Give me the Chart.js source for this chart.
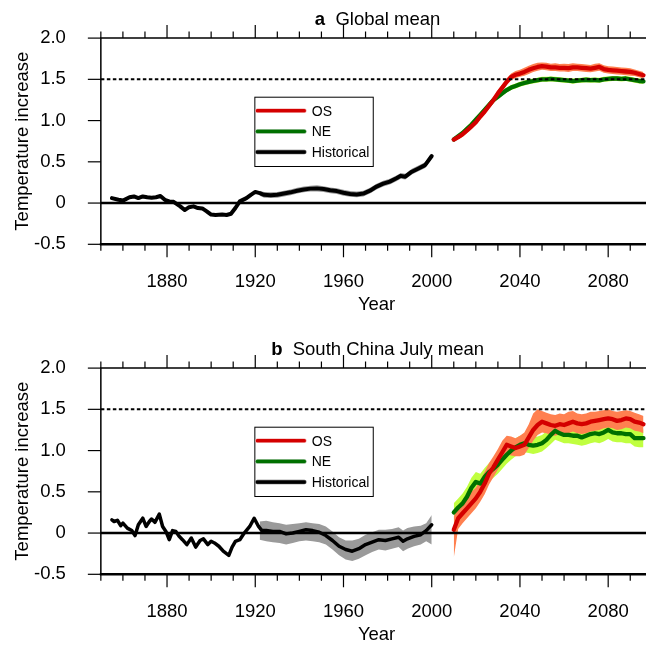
<!DOCTYPE html>
<html><head><meta charset="utf-8">
<script src="https://cdn.jsdelivr.net/npm/chart.js"></script>
<style>
html,body{margin:0;padding:0;background:#fff;overflow:hidden;width:646px;height:646px;position:relative;}
canvas{position:absolute;left:0;}
#ca{top:0px}
#cb{top:330px}
</style></head><body>
<canvas id="ca" width="656" height="330"></canvas>
<canvas id="cb" width="656" height="330"></canvas>
<script>
// ---------- tick labels ----------
const xTickLabels = [1880, 1920, 1960, 2000, 2040, 2080];
const yTickLabels = [-0.5, 0, 0.5, 1.0, 1.5, 2.0];
const refLevels = [0, 1.5];           // solid zero line, dotted 1.5 line
const seriesNames = ['OS', 'NE', 'Historical'];

// ---------- panel a: Global mean ----------
const histYearsA = [1855,1858,1860,1863,1865,1867,1869,1871,1873,1875,1877,1879,1881,1883,1886,1888,1890,1892,1894,1896,1898,1900,1902,1905,1907,1909,1911,1913,1916,1918,1920,1922,1924,1927,1930,1933,1936,1939,1942,1945,1948,1951,1954,1957,1960,1963,1966,1969,1972,1975,1978,1981,1984,1986,1988,1991,1994,1997,2000];
const histA = [0.06,0.04,0.03,0.07,0.08,0.06,0.08,0.07,0.065,0.07,0.085,0.04,0.02,0.015,-0.04,-0.085,-0.05,-0.04,-0.06,-0.065,-0.10,-0.14,-0.145,-0.14,-0.145,-0.13,-0.06,0.02,0.06,0.10,0.135,0.12,0.10,0.095,0.10,0.115,0.13,0.15,0.165,0.175,0.178,0.17,0.155,0.145,0.125,0.11,0.105,0.115,0.15,0.20,0.235,0.26,0.30,0.33,0.32,0.38,0.42,0.46,0.57];
const histBandYearsA = [1922,1924,1927,1930,1933,1936,1939,1942,1945,1948,1951,1954,1957,1960,1963,1966,1969,1972,1975,1978,1981,1984,1986,1988,1991,1994,1997,2000];
const histHiA = [0.15,0.135,0.13,0.135,0.15,0.165,0.185,0.20,0.21,0.215,0.205,0.19,0.18,0.16,0.145,0.14,0.15,0.185,0.235,0.27,0.295,0.335,0.365,0.355,0.415,0.455,0.495,0.60];
const histLoA = [0.09,0.065,0.06,0.065,0.08,0.095,0.115,0.13,0.14,0.14,0.135,0.12,0.11,0.09,0.075,0.07,0.08,0.115,0.165,0.20,0.225,0.265,0.295,0.285,0.345,0.385,0.425,0.54];

const projYears = [2010,2012,2014,2016,2018,2020,2022,2024,2026,2028,2030,2032,2034,2036,2038,2040,2042,2044,2046,2048,2050,2052,2054,2056,2058,2060,2062,2064,2066,2068,2070,2072,2074,2076,2078,2080,2082,2084,2086,2088,2090,2092,2094,2096];

const osA   = [0.77,0.80,0.835,0.88,0.93,0.98,1.05,1.11,1.18,1.25,1.33,1.40,1.47,1.53,1.555,1.57,1.59,1.615,1.635,1.65,1.66,1.655,1.645,1.645,1.64,1.64,1.635,1.645,1.645,1.64,1.635,1.63,1.64,1.65,1.625,1.615,1.61,1.605,1.60,1.595,1.59,1.58,1.565,1.55];
const osHiA = [0.79,0.83,0.87,0.915,0.965,1.02,1.09,1.15,1.22,1.29,1.37,1.44,1.51,1.57,1.60,1.615,1.64,1.665,1.685,1.70,1.705,1.70,1.69,1.695,1.685,1.69,1.685,1.695,1.69,1.685,1.68,1.675,1.69,1.695,1.67,1.66,1.655,1.65,1.645,1.64,1.635,1.62,1.605,1.59];
const osLoA = [0.75,0.775,0.80,0.845,0.895,0.945,1.01,1.07,1.14,1.21,1.29,1.36,1.43,1.49,1.515,1.53,1.545,1.565,1.59,1.605,1.615,1.61,1.60,1.60,1.595,1.595,1.59,1.60,1.60,1.595,1.59,1.585,1.595,1.605,1.58,1.57,1.565,1.56,1.555,1.55,1.545,1.54,1.525,1.51];
const neA   = [0.77,0.81,0.85,0.90,0.95,1.01,1.07,1.13,1.19,1.25,1.29,1.33,1.37,1.40,1.42,1.44,1.455,1.47,1.48,1.49,1.50,1.50,1.505,1.50,1.495,1.49,1.485,1.478,1.485,1.49,1.495,1.49,1.492,1.488,1.50,1.505,1.51,1.51,1.505,1.51,1.50,1.49,1.48,1.475];
const neHiA = [0.79,0.835,0.88,0.93,0.985,1.045,1.105,1.165,1.225,1.28,1.32,1.36,1.40,1.43,1.45,1.47,1.485,1.50,1.51,1.52,1.53,1.53,1.535,1.53,1.525,1.52,1.515,1.51,1.515,1.52,1.525,1.52,1.522,1.52,1.53,1.535,1.54,1.54,1.535,1.54,1.53,1.52,1.51,1.505];
const neLoA = [0.75,0.785,0.82,0.87,0.915,0.975,1.035,1.095,1.155,1.22,1.26,1.30,1.34,1.37,1.39,1.41,1.425,1.44,1.45,1.46,1.47,1.47,1.475,1.47,1.465,1.46,1.455,1.448,1.455,1.46,1.465,1.46,1.462,1.458,1.47,1.475,1.48,1.48,1.475,1.48,1.47,1.46,1.45,1.445];

// ---------- panel b: South China July mean ----------
const histYearsB = [1855,1856,1857.5,1859,1860,1862,1864,1865.5,1867,1869,1870.5,1872,1873,1874.5,1876.5,1878,1879.5,1881,1882.5,1884,1885.5,1887,1889,1891,1893,1895,1896.5,1898.5,1900,1901.5,1903.5,1905.5,1908,1909.5,1911,1913,1915,1917.5,1919.5,1921.5,1923,1925,1928,1931,1934,1937,1940,1943,1946,1949,1952,1955,1958,1961,1964,1967,1970,1973,1976,1979,1982,1985,1987,1989,1992,1995,1997.5,2000];
const histB = [0.16,0.14,0.155,0.09,0.12,0.06,0.03,-0.03,0.10,0.18,0.08,0.14,0.17,0.13,0.23,0.08,0.02,-0.08,0.03,0.02,-0.04,-0.08,-0.14,-0.06,-0.17,-0.09,-0.07,-0.14,-0.10,-0.12,-0.16,-0.22,-0.27,-0.17,-0.10,-0.08,0.00,0.08,0.18,0.08,0.03,0.03,0.02,0.02,-0.01,0.00,0.02,0.04,0.03,0.01,-0.03,-0.09,-0.16,-0.20,-0.22,-0.19,-0.14,-0.11,-0.08,-0.09,-0.07,-0.05,-0.10,-0.07,-0.04,-0.02,0.03,0.10];
const histBandYearsB = [1922,1925,1928,1931,1934,1937,1940,1943,1946,1949,1952,1955,1958,1961,1964,1967,1970,1973,1976,1979,1982,1985,1987,1989,1992,1995,1997.5,2000];
const histHiB = [0.14,0.15,0.13,0.12,0.10,0.11,0.12,0.13,0.12,0.11,0.08,0.02,-0.05,-0.09,-0.09,-0.07,-0.02,0.01,0.04,0.04,0.05,0.07,0.03,0.06,0.08,0.09,0.12,0.22];
const histLoB = [-0.08,-0.10,-0.11,-0.12,-0.14,-0.12,-0.10,-0.09,-0.10,-0.11,-0.14,-0.20,-0.27,-0.32,-0.34,-0.31,-0.27,-0.23,-0.20,-0.21,-0.19,-0.17,-0.22,-0.19,-0.16,-0.14,-0.10,-0.14];

const osB   = [0.04,0.18,0.24,0.30,0.36,0.42,0.50,0.60,0.72,0.80,0.89,0.98,1.07,1.05,1.03,1.05,1.07,1.16,1.25,1.31,1.35,1.33,1.31,1.30,1.32,1.31,1.33,1.35,1.33,1.32,1.33,1.35,1.36,1.37,1.38,1.39,1.38,1.36,1.37,1.39,1.38,1.35,1.34,1.32];
const osHiB = [0.20,0.32,0.38,0.44,0.50,0.55,0.64,0.74,0.85,0.93,1.02,1.12,1.18,1.17,1.15,1.18,1.22,1.32,1.45,1.50,1.48,1.46,1.44,1.43,1.45,1.44,1.47,1.48,1.45,1.44,1.45,1.47,1.47,1.48,1.49,1.50,1.48,1.47,1.48,1.49,1.48,1.46,1.44,1.42];
const osLoB = [-0.30,0.05,0.12,0.18,0.24,0.30,0.38,0.47,0.59,0.68,0.77,0.86,0.96,0.94,0.93,0.93,0.95,1.03,1.12,1.19,1.22,1.21,1.19,1.18,1.20,1.19,1.21,1.23,1.21,1.20,1.21,1.23,1.24,1.25,1.27,1.28,1.27,1.25,1.26,1.28,1.27,1.24,1.23,1.21];
const neB   = [0.25,0.31,0.36,0.44,0.55,0.62,0.60,0.68,0.74,0.78,0.83,0.89,0.95,1.00,1.04,1.07,1.09,1.07,1.06,1.07,1.09,1.13,1.19,1.24,1.21,1.19,1.19,1.18,1.18,1.16,1.18,1.20,1.21,1.20,1.22,1.25,1.22,1.21,1.21,1.20,1.20,1.15,1.15,1.15];
const neHiB = [0.36,0.42,0.48,0.56,0.67,0.74,0.72,0.79,0.85,0.89,0.94,1.00,1.06,1.11,1.15,1.18,1.19,1.17,1.16,1.17,1.19,1.23,1.29,1.33,1.31,1.29,1.29,1.28,1.28,1.26,1.28,1.30,1.31,1.30,1.32,1.34,1.32,1.31,1.31,1.30,1.30,1.27,1.27,1.26];
const neLoB = [0.15,0.21,0.25,0.33,0.44,0.51,0.49,0.57,0.63,0.67,0.72,0.78,0.84,0.89,0.93,0.96,0.98,0.97,0.96,0.97,0.99,1.03,1.08,1.13,1.11,1.09,1.09,1.08,1.07,1.06,1.07,1.09,1.10,1.09,1.11,1.14,1.11,1.10,1.10,1.09,1.09,1.05,1.04,1.04];

// ---------- styling ----------
const FONT = '"Liberation Sans", Arial, Helvetica, sans-serif';
const FS = 18.5;
const C = {
  os: '#d40000', osBand: '#ff8050',
  ne: '#007000', neBand: '#c0ff40',
  hist: '#000000', histBand: '#9a9a9a'
};

const pts = (xs, ys) => xs.map((x, i) => ({x: x, y: ys[i]}));

function lineDs(label, data, color, width, order) {
  return {label, data, borderColor: color, borderWidth: width, pointRadius: 0,
    fill: false, tension: 0, borderJoinStyle: 'round', borderCapStyle: 'round', order};
}
function bandDs(data, color, fill, order) {
  return {label: '_band', data, borderWidth: 0, borderColor: 'rgba(0,0,0,0)', backgroundColor: color,
    pointRadius: 0, fill: fill, tension: 0, order};
}

const decor = {
  id: 'decor',
  afterDatasetsDraw(chart, args, opts) {
    const ctx = chart.ctx, a = chart.chartArea;
    const xs = chart.scales.x, ys = chart.scales.y;
    ctx.save();
    // reference lines
    const y0 = ys.getPixelForValue(refLevels[0]);
    ctx.strokeStyle = '#000'; ctx.lineWidth = 2.4;
    ctx.beginPath(); ctx.moveTo(a.left, y0); ctx.lineTo(a.right, y0); ctx.stroke();
    const y15 = ys.getPixelForValue(refLevels[1]);
    ctx.lineWidth = 2; ctx.setLineDash([3.5, 2.5]);
    ctx.beginPath(); ctx.moveTo(a.left, y15); ctx.lineTo(a.right, y15); ctx.stroke();
    ctx.setLineDash([]);
    // frame
    ctx.lineWidth = 1.5;
    ctx.beginPath();
    ctx.moveTo(a.left, a.bottom); ctx.lineTo(a.left, a.top); ctx.lineTo(a.right, a.top); ctx.lineTo(a.right, a.bottom);
    ctx.stroke();
    ctx.lineWidth = 2.4;
    ctx.beginPath(); ctx.moveTo(a.left - 1, a.bottom); ctx.lineTo(a.right, a.bottom); ctx.stroke();
    // x ticks (top and bottom, outward)
    ctx.lineWidth = 1.2;
    for (let yr = xs.min; yr <= xs.max; yr += 10) {
      const px = xs.getPixelForValue(yr);
      const major = xTickLabels.includes(yr);
      const L = major ? 13 : 6.5;
      ctx.beginPath();
      ctx.moveTo(px, a.bottom); ctx.lineTo(px, a.bottom + L);
      ctx.moveTo(px, a.top); ctx.lineTo(px, a.top - L);
      ctx.stroke();
    }
    // y ticks (left, outward)
    yTickLabels.forEach(v => {
      const py = ys.getPixelForValue(v);
      ctx.beginPath(); ctx.moveTo(a.left - 13, py); ctx.lineTo(a.left, py); ctx.stroke();
    });
    // legend box
    const bx = a.left + 153.5, by = a.top + 58.6, bw = 118.4, bh = 69.3;
    ctx.fillStyle = '#fff';
    ctx.fillRect(bx, by, bw, bh);
    ctx.lineWidth = 1; ctx.strokeStyle = '#000';
    ctx.strokeRect(bx + 0.5, by + 0.5, bw, bh);
    const entries = [
      {name: seriesNames[0], c: C.os, halo: '#f0a0a0'},
      {name: seriesNames[1], c: C.ne, halo: '#80b080'},
      {name: seriesNames[2], c: C.hist, halo: '#606060'}
    ];
    ctx.font = '14px ' + FONT; ctx.textBaseline = 'middle'; ctx.textAlign = 'left';
    entries.forEach((e, i) => {
      const ly = by + 14 + i * 20.7;
      ctx.lineCap = 'round';
      ctx.strokeStyle = e.halo; ctx.lineWidth = 4.5;
      ctx.beginPath(); ctx.moveTo(bx + 3, ly); ctx.lineTo(bx + 50, ly); ctx.stroke();
      ctx.strokeStyle = e.c; ctx.lineWidth = 3.2;
      ctx.beginPath(); ctx.moveTo(bx + 3, ly); ctx.lineTo(bx + 50, ly); ctx.stroke();
      ctx.fillStyle = '#000';
      ctx.fillText(e.name, bx + 57.4, ly + 1);
    });
    // panel title: bold letter + normal text, centred on the plot area
    const t = opts.title;
    ctx.fillStyle = '#000'; ctx.textBaseline = 'alphabetic';
    ctx.font = 'bold ' + FS + 'px ' + FONT;
    const w1 = ctx.measureText(t[0]).width;
    ctx.font = FS + 'px ' + FONT;
    const rest = '  ' + t[1];
    const w2 = ctx.measureText(rest).width;
    const cx = (a.left + a.right) / 2 + 1;
    const sx = cx - (w1 + w2) / 2;
    ctx.font = 'bold ' + FS + 'px ' + FONT;
    ctx.fillText(t[0], sx, 24.5);
    ctx.font = FS + 'px ' + FONT;
    ctx.fillText(rest, sx + w1, 24.5);
    ctx.restore();
  }
};

function makeChart(id, d) {
  const datasets = [
    lineDs(seriesNames[2], pts(d.histYears, d.hist), C.hist, d.histW, 1),
    lineDs(seriesNames[0], pts(projYears, d.os), C.os, 4.3, 2),
    lineDs(seriesNames[1], pts(projYears, d.ne), C.ne, 4.3, 3),
    bandDs(pts(projYears, d.osHi), C.osBand, '+1', 4),
    bandDs(pts(projYears, d.osLo), 'rgba(0,0,0,0)', false, 5),
    bandDs(pts(projYears, d.neHi), C.neBand, '+1', 6),
    bandDs(pts(projYears, d.neLo), 'rgba(0,0,0,0)', false, 7),
    bandDs(pts(d.bandYears, d.histHi), C.histBand, '+1', 8),
    bandDs(pts(d.bandYears, d.histLo), 'rgba(0,0,0,0)', false, 9)
  ];
  return new Chart(document.getElementById(id), {
    type: 'line',
    data: {datasets},
    options: {
      responsive: false, animation: false, devicePixelRatio: 1,
      layout: {padding: {top: 37.7, left: 0, right: 3.7, bottom: 0}},
      plugins: {legend: {display: false}, tooltip: {enabled: false}, decor: {title: d.title}},
      scales: {
        x: {
          type: 'linear', min: 1850, max: 2100,
          afterBuildTicks: s => { s.ticks = xTickLabels.map(v => ({value: v})); },
          afterFit: s => { s.height = 85.7; },
          grid: {display: false}, border: {display: false},
          ticks: {padding: 19, maxRotation: 0, autoSkip: false, color: '#000',
            font: {family: FONT, size: FS}, callback: v => String(v)},
          title: {display: true, text: 'Year', color: '#000', font: {family: FONT, size: FS},
            padding: {top: 0, bottom: 14}}
        },
        y: {
          type: 'linear', min: -0.5, max: 2.0,
          afterBuildTicks: s => { s.ticks = yTickLabels.map(v => ({value: v})); },
          afterFit: s => { s.width = 100.85; },
          grid: {display: false}, border: {display: false},
          ticks: {padding: 27, color: '#000', font: {family: FONT, size: FS},
            callback: v => v === 0 ? '0' : v.toFixed(1)},
          title: {display: true, text: 'Temperature increase', color: '#000', font: {family: FONT, size: FS},
            padding: {top: 11.4, bottom: 0}}
        }
      }
    },
    plugins: [decor]
  });
}

makeChart('ca', {title: ['a', 'Global mean'], histYears: histYearsA, hist: histA, histW: 4,
  bandYears: histBandYearsA, histHi: histHiA, histLo: histLoA,
  os: osA, osHi: osHiA, osLo: osLoA, ne: neA, neHi: neHiA, neLo: neLoA});
makeChart('cb', {title: ['b', 'South China July mean'], histYears: histYearsB, hist: histB, histW: 3.5,
  bandYears: histBandYearsB, histHi: histHiB, histLo: histLoB,
  os: osB, osHi: osHiB, osLo: osLoB, ne: neB, neHi: neHiB, neLo: neLoB});
</script>
</body></html>
